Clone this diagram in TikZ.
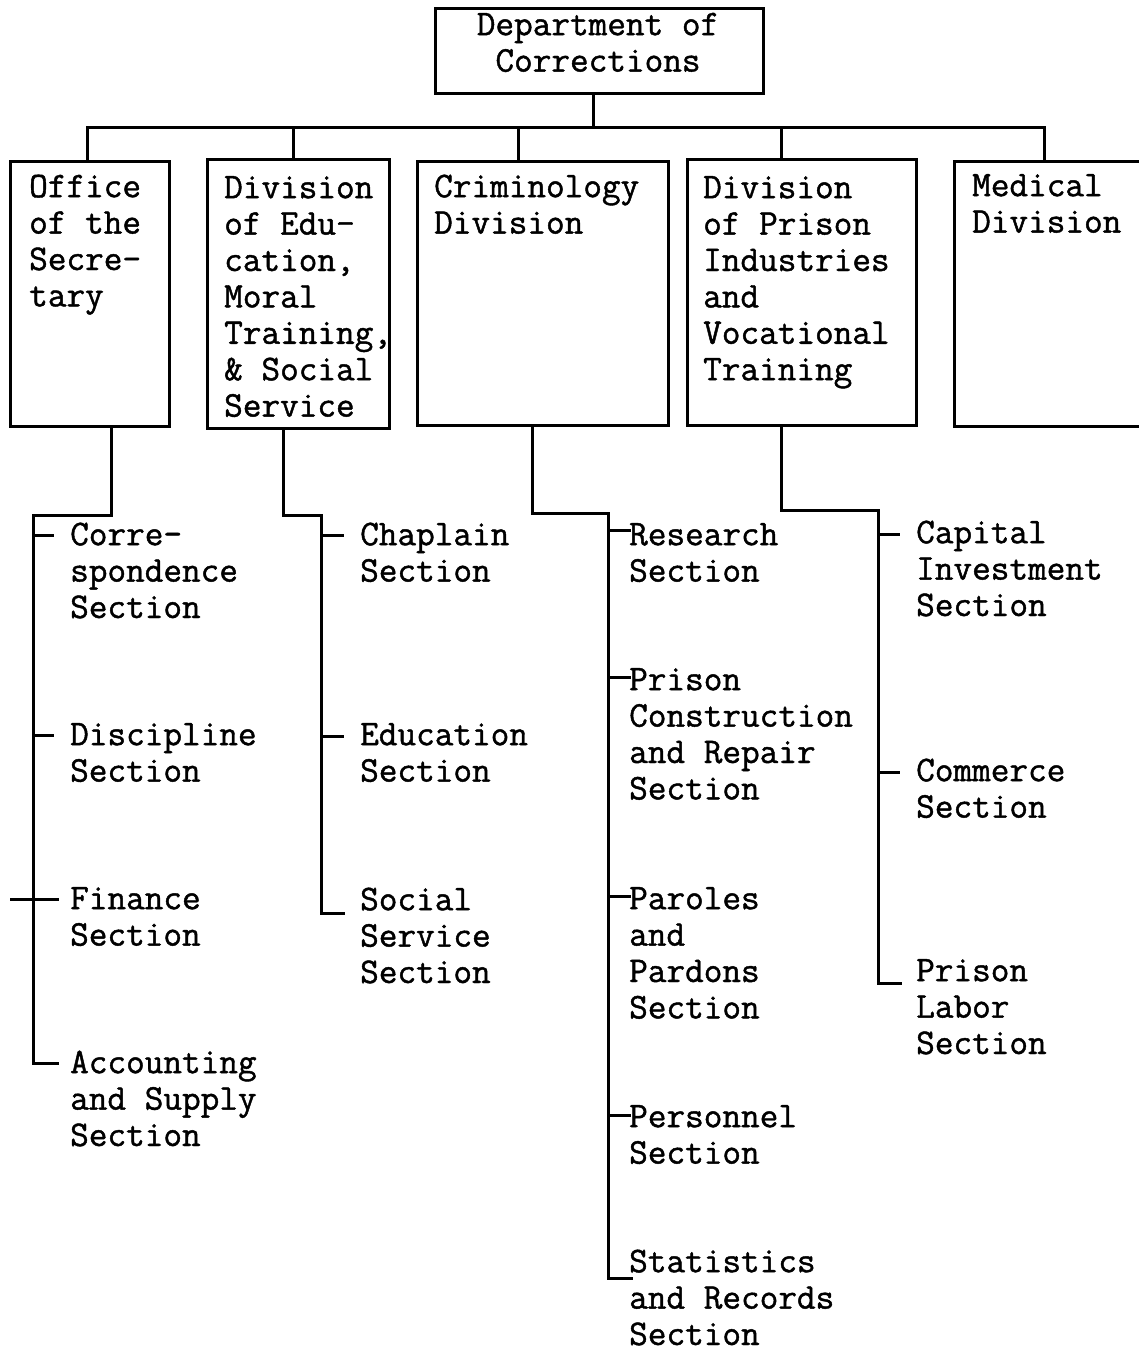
\documentclass[tikz,border=0pt]{standalone}
\usepackage{fontspec}
\newfontfamily\typewriter{Latin Modern Mono}[FakeBold=1.2]
\usetikzlibrary{calc}
\begin{document}
\begin{tikzpicture}[x=1pt,y=-1pt,
  conn/.style={line width=3pt, line cap=rect},
  box/.style={draw, line width=3pt, inner sep=0pt, anchor=north west},
  txt/.style={font=\typewriter\fontsize{36.2}{36.4}\selectfont,
    align=left, inner sep=0pt, anchor=north west, yshift=25.48pt},
  txtc/.style={txt, align=center, anchor=north}]
\useasboundingbox (0,0) rectangle (1139,1351);
\clip (0,0) rectangle (1139,1351);

% ---- boxes ----
\node[box, minimum width=328pt, minimum height=85pt]  (dept) at (434,7) {};
\node[box, minimum width=159pt, minimum height=265pt] (off)  at (9,160) {};
\node[box, minimum width=182pt, minimum height=269pt] (edu)  at (206,158) {};
\node[box, minimum width=251pt, minimum height=264pt] (crim) at (416,160) {};
\node[box, minimum width=229pt, minimum height=266pt] (pind) at (686,158) {};
\node[box, minimum width=197pt, minimum height=265pt] (med)  at (953,160) {};

% ---- box texts ----
\node[txtc] (deptT) at (598,35) {\strut Department of\\Corrections};
\node[txt] (offTx)  at (29,197)  {\strut Office\\of the\\Secre-\\tary};
\node[txt] (eduTx)  at (224,198) {\strut Division\\of Edu-\\cation,\\Moral\\Training,\\\& Social\\Service};
\node[txt] (crimTx) at (434,197) {\strut Criminology\\Division};
\node[txt] (pindTx) at (703,198) {\strut Division\\of Prison\\Industries\\and\\Vocational\\Training};
\node[txt] (medTx)  at (972,196) {\strut Medical\\Division};

% ---- section texts ----
\node[txt] (cor)  at (70,545)  {\strut Corre-\\spondence\\Section};
\node[txt] (dis)  at (70,745)  {\strut Discipline\\Section};
\node[txt] (fin)  at (70,909)  {\strut Finance\\Section};
\node[txt] (acc)  at (70,1073) {\strut Accounting\\and Supply\\Section};

\node[txt] (cha)  at (360,545) {\strut Chaplain\\Section};
\node[txt] (edus) at (360,745) {\strut Education\\Section};
\node[txt] (soc)  at (360,910) {\strut Social\\Service\\Section};

\node[txt] (res)  at (629,545)  {\strut Research\\Section};
\node[txt] (pcr)  at (629,690)  {\strut Prison\\Construction\\and Repair\\Section};
\node[txt] (par)  at (629,909)  {\strut Paroles\\and\\Pardons\\Section};
\node[txt] (per)  at (629,1127) {\strut Personnel\\Section};
\node[txt] (sta)  at (629,1272) {\strut Statistics\\and Records\\Section};

\node[txt] (cap)  at (916,543) {\strut Capital\\Investment\\Section};
\node[txt] (com)  at (916,781) {\strut Commerce\\Section};
\node[txt] (plab) at (916,981) {\strut Prison\\Labor\\Section};

% ---- upper connectors ----
\coordinate (bus) at (0,128);
\coordinate (deptB) at ([xshift=-6pt]dept.south);
\coordinate (offT)  at ([xshift=-2.5pt]off.north);
\coordinate (eduT)  at ([xshift=-5pt]edu.north);
\coordinate (crimT) at ([xshift=-24.5pt]crim.north);
\coordinate (pindT) at ([xshift=-20.5pt]pind.north);
\coordinate (medT)  at ([xshift=-8.5pt]med.north);
\draw[conn] (deptB) -- (deptB |- bus);
\draw[conn] (offT |- bus) -- (medT |- bus);
\foreach \c in {offT,eduT,crimT,pindT,medT}
  \draw[conn] (\c) -- (\c |- bus);

% ---- tick end points (beside the first line of each section) ----
\coordinate (corK)  at ([shift={(-18pt,-15.5pt)}]cor.north west);
\coordinate (disK)  at ([shift={(-18pt,-15.5pt)}]dis.north west);
\coordinate (finK)  at ([shift={(-13pt,-15.5pt)}]fin.north west);
\coordinate (accK)  at ([shift={(-13pt,-15.5pt)}]acc.north west);
\coordinate (chaK)  at ([shift={(-18pt,-15.5pt)}]cha.north west);
\coordinate (edusK) at ([shift={(-18pt,-16.5pt)}]edus.north west);
\coordinate (socK)  at ([shift={(-17pt,-28.5pt)}]soc.north west);
\coordinate (resK)  at ([shift={(0pt,-10.5pt)}]res.north west);
\coordinate (pcrK)  at ([shift={(0pt,-12.5pt)}]pcr.north west);
\coordinate (parK)  at ([shift={(0pt,-12.5pt)}]par.north west);
\coordinate (perK)  at ([shift={(0pt,-13.5pt)}]per.north west);
\coordinate (staK)  at ([shift={(2pt,-31.5pt)}]sta.north west);
\coordinate (capK)  at ([shift={(-18pt,-16.5pt)}]cap.north west);
\coordinate (comK)  at ([shift={(-18pt,-16.5pt)}]com.north west);
\coordinate (plabK) at ([shift={(-16pt,-27.5pt)}]plab.north west);

% ---- Office of the Secretary ----
\coordinate (offB) at ([xshift=21.5pt]off.south);
\coordinate (offS) at (33,515);
\draw[conn] (offB) |- (offS) |- (accK);
\foreach \k in {corK,disK,finK}
  \draw[conn] (offS |- \k) -- (\k);
\draw[conn] ([xshift=-46pt]finK) -- (offS |- finK);

% ---- Division of Education ----
\coordinate (eduB) at ([xshift=-15pt]edu.south);
\coordinate (eduS) at (321,515);
\draw[conn] (eduB) |- (eduS) |- (socK);
\foreach \k in {chaK,edusK}
  \draw[conn] (eduS |- \k) -- (\k);

% ---- Criminology Division ----
\coordinate (crimB) at ([xshift=-10.5pt]crim.south);
\coordinate (crimS) at (608,513);
\draw[conn] (crimB) |- (crimS) |- (staK);
\foreach \k in {resK,pcrK,parK,perK}
  \draw[conn] (crimS |- \k) -- (\k);

% ---- Division of Prison Industries ----
\coordinate (pindB) at ([xshift=-20.5pt]pind.south);
\coordinate (pindS) at (878,510);
\draw[conn] (pindB) |- (pindS) |- (plabK);
\foreach \k in {capK,comK}
  \draw[conn] (pindS |- \k) -- (\k);
\end{tikzpicture}
\end{document}
